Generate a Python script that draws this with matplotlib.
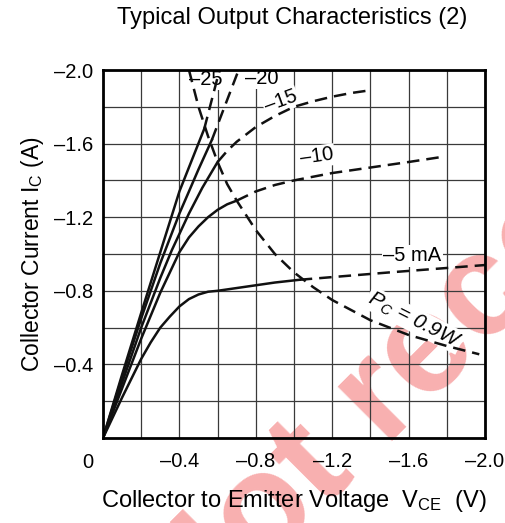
"""Typical Output Characteristics (2) - VCE vs IC, base current curves + Pc limit."""

import matplotlib
matplotlib.use('Agg')
import matplotlib.pyplot as plt
import numpy as np

plt.rcParams['font.family'] = ['Liberation Sans', 'DejaVu Sans']
plt.rcParams['mathtext.default'] = 'regular'

# curves (V, A); solid part + dashed part
IB_LABELS = ['–25', '–20', '–15', '–10', '–5 mA']

SOLID_V = [
    [0, -0.10, -0.20, -0.30, -0.40, -0.53],
    [0, -0.10, -0.20, -0.30, -0.40, -0.50, -0.57],
    [0, -0.10, -0.20, -0.30, -0.36, -0.45, -0.52, -0.60],
    [0, -0.10, -0.20, -0.30, -0.40, -0.45, -0.50, -0.55, -0.60, -0.65,
     -0.70],
    [0, -0.10, -0.20, -0.25, -0.30, -0.35, -0.40, -0.45, -0.50, -0.55,
     -0.60, -0.70, -0.80, -0.90, -1.03],
]
SOLID_I = [
    [0, -0.345, -0.68, -1.01, -1.34, -1.68],
    [0, -0.33, -0.65, -0.95, -1.22, -1.46, -1.62],
    [0, -0.30, -0.60, -0.87, -1.02, -1.22, -1.36, -1.50],
    [0, -0.27, -0.54, -0.79, -1.01, -1.09, -1.15, -1.20, -1.24, -1.27,
     -1.29],
    [0, -0.22, -0.43, -0.52, -0.60, -0.66, -0.715, -0.755, -0.78, -0.795,
     -0.80, -0.815, -0.83, -0.845, -0.86],
]
DASH_V = [
    [-0.53, -0.61],
    [-0.57, -0.71],
    [-0.60, -0.65, -0.70, -0.80, -0.90, -1.00, -1.10, -1.20, -1.30, -1.40],
    [-0.70, -0.80, -0.90, -1.00, -1.20, -1.40, -1.60, -1.79],
    [-1.03, -1.50, -2.00],
]
DASH_I = [
    [-1.68, -2.00],
    [-1.62, -2.00],
    [-1.50, -1.56, -1.61, -1.69, -1.75, -1.80, -1.83, -1.855, -1.875,
     -1.89],
    [-1.29, -1.34, -1.375, -1.40, -1.44, -1.47, -1.50, -1.53],
    [-0.86, -0.90, -0.94],
]

# Pc = 0.9 W limit
PC_V = [-0.45, -0.50, -0.55, -0.60, -0.65, -0.70, -0.80, -0.90, -1.00,
        -1.10, -1.20, -1.40, -1.60, -1.80, -1.97]
PC_I = [-2.00, -1.80, -1.64, -1.50, -1.38, -1.29, -1.13, -1.00, -0.90,
        -0.82, -0.75, -0.64, -0.56, -0.50, -0.455]

X_TICKS = [0, -0.4, -0.8, -1.2, -1.6, -2.0]
Y_TICKS = [0, -0.4, -0.8, -1.2, -1.6, -2.0]
TICK_TXT = ['', '–0.4', '–0.8', '–1.2', '–1.6', '–2.0']

DASHES = (5, 2.8)


def main():
    fig = plt.figure(figsize=(5.05, 5.23), dpi=100)
    ax = fig.add_axes([103 / 505, 85 / 523, 382 / 505, 368 / 523])
    ax.patch.set_alpha(0)

    # watermark behind everything
    fig.text(0.37, -0.235, 'Not recommended', rotation=45,
             rotation_mode='anchor', ha='left', va='baseline',
             fontsize=104, weight='bold', color='#f8b0b0', zorder=-5)

    ax.set_xlim(0, -2.0)
    ax.set_ylim(0, -2.0)
    minor = np.round(np.arange(0, -2.01, -0.2), 2)
    ax.set_xticks(minor, minor=True)
    ax.set_yticks(minor, minor=True)
    ax.set_xticks(X_TICKS)
    ax.set_yticks(Y_TICKS)
    ax.set_xticklabels(TICK_TXT, fontsize=14.5)
    ax.set_yticklabels(TICK_TXT, fontsize=14.5)
    ax.tick_params(which='both', length=0)
    ax.tick_params(axis='x', pad=10)
    ax.tick_params(axis='y', pad=7)
    ax.grid(which='both', color='#3a3a3a', lw=0.9, zorder=1)
    for s in ax.spines.values():
        s.set_linewidth(2.0)
        s.set_zorder(6)

    for sv, si in zip(SOLID_V, SOLID_I):
        ax.plot(sv, si, color='#111111', lw=1.8, zorder=4,
                solid_joinstyle='round')
    for dv, di in zip(DASH_V, DASH_I):
        ax.plot(dv, di, color='#111111', lw=1.8, zorder=4,
                dashes=DASHES)
    ax.plot(PC_V, PC_I, color='#111111', lw=1.8, zorder=4, dashes=DASHES)

    box = dict(facecolor='white', edgecolor='none', pad=1)
    lab_pos = [(-0.54, -1.95, 0), (-0.83, -1.955, 0), (-0.93, -1.83, 20),
               (-1.12, -1.53, 8), (-1.62, -0.99, 0)]
    for txt, (x, y, r) in zip(IB_LABELS, lab_pos):
        ax.text(x, y, txt, fontsize=14.5, ha='center', va='center',
                rotation=r, bbox=box, zorder=3)
    ax.text(-1.63, -0.64, '$P_C$ = 0.9W', fontsize=15, ha='center',
            va='center', rotation=-27, bbox=box, zorder=3, style='italic')

    fig.text(88 / 505, 1 - 462 / 523, '0', fontsize=14.5, ha='center',
             va='center')
    ax.set_xlabel('Collector to Emitter Voltage  V$_{CE}$  (V)',
                  fontsize=17, labelpad=12)
    ax.set_ylabel('Collector Current I$_C$ (A)', fontsize=16.5,
                  labelpad=6)
    fig.text(0.578, 1 - 18 / 523, 'Typical Output Characteristics (2)',
             fontsize=17, ha='center', va='center')

    fig.savefig('out.png', dpi=100)


if __name__ == '__main__':
    main()
